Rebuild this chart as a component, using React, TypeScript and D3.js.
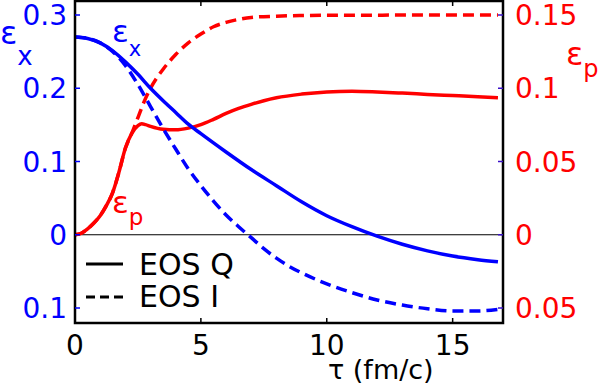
import React from "react";
import * as d3 from "d3";

// ---- data ----
const tauQx = [0, 0.5, 1, 1.5, 2, 2.5, 3, 3.5, 4, 4.5, 5, 6, 7, 8, 9, 10, 11, 12, 13, 14, 15, 16, 16.8];
const epsXQ = [0.270, 0.268, 0.262, 0.251, 0.236, 0.219, 0.200, 0.183, 0.167, 0.151, 0.138, 0.113, 0.089, 0.067, 0.045, 0.026, 0.011, -0.002, -0.013, -0.022, -0.029, -0.034, -0.037];

const tauIx = [0, 0.5, 1, 1.5, 2, 2.5, 3, 3.5, 4, 4.5, 5, 5.5, 6, 6.5, 7, 7.5, 8, 8.5, 9, 10, 11, 12, 13, 14, 15, 16, 16.8];
const epsXI = [0.270, 0.268, 0.262, 0.250, 0.231, 0.205, 0.175, 0.145, 0.117, 0.090, 0.067, 0.046, 0.027, 0.011, -0.004, -0.019, -0.032, -0.043, -0.052, -0.067, -0.079, -0.089, -0.096, -0.101, -0.104, -0.104, -0.102];

const tauQp = [0, 0.25, 0.5, 0.75, 1, 1.25, 1.5, 1.75, 2, 2.25, 2.5, 2.65, 2.8, 3, 3.5, 4, 4.5, 5, 5.5, 6, 6.5, 7, 7.5, 8, 9, 10, 11, 12, 13, 14, 15, 16, 16.8];
const epsPQ = [0, 0.001, 0.004, 0.008, 0.013, 0.020, 0.029, 0.043, 0.059, 0.069, 0.0745, 0.0758, 0.0752, 0.074, 0.072, 0.0716, 0.0728, 0.0752, 0.0788, 0.0828, 0.0862, 0.089, 0.0915, 0.0935, 0.096, 0.0975, 0.098, 0.0975, 0.0967, 0.0958, 0.095, 0.0942, 0.0935];

const tauIp = [0, 0.25, 0.5, 0.75, 1, 1.25, 1.5, 1.75, 2, 2.25, 2.5, 2.75, 3, 3.5, 4, 4.5, 5, 5.5, 6, 6.5, 7, 8, 9, 10, 12, 14, 16.8];
const epsPI = [0, 0.001, 0.004, 0.008, 0.013, 0.020, 0.029, 0.043, 0.059, 0.069, 0.080, 0.091, 0.100, 0.113, 0.123, 0.131, 0.137, 0.142, 0.145, 0.147, 0.1483, 0.1492, 0.1496, 0.1498, 0.1499, 0.15, 0.15];

const xTicks = [0, 5, 10, 15];
const xTickLabels = ["0", "5", "10", "15"];
const leftTicks = [0.3, 0.2, 0.1, 0, -0.1];
const leftTickLabels = ["0.3", "0.2", "0.1", "0", "0.1"];
const rightTicks = [0.15, 0.1, 0.05, 0, -0.05];
const rightTickLabels = ["0.15", "0.1", "0.05", "0", "0.05"];
const legendLabels = ["EOS Q", "EOS I"];

const BLUE = "#0000ff";
const RED = "#ff0000";
const FONT = "DejaVu Sans";

export default function App() {
  const x = d3.scaleLinear().domain([0, 17]).range([75, 503]);
  const yL = d3.scaleLinear().domain([-0.1, 0.3]).range([308, 15]);
  const yR = d3.scaleLinear().domain([-0.05, 0.15]).range([308, 15]);

  const mk = (ts: number[], vs: number[], y: d3.ScaleLinear<number, number>) =>
    d3
      .line<number>()
      .x((_, i) => x(ts[i]))
      .y((v) => y(v))
      .curve(d3.curveMonotoneX)(vs) || "";

  const top = 1;
  const bottom = 323;
  const left = x(0);
  const right = x(17);

  return (
    <svg width={600} height={386} style={{ position: "absolute", left: 0, top: 0, background: "#fff" }} fontFamily={FONT}>
      <rect x={0} y={0} width={600} height={386} fill="#fff" />
      {/* zero line */}
      <line x1={left} x2={right} y1={yL(0)} y2={yL(0)} stroke="#000" strokeWidth={1} />
      {/* curves */}
      <path d={mk(tauQp, epsPQ, yR)} fill="none" stroke={RED} strokeWidth={3.5} />
      <path d={mk(tauIp, epsPI, yR)} fill="none" stroke={RED} strokeWidth={3.5} strokeDasharray="11,6" />
      <path d={mk(tauQx, epsXQ, yL)} fill="none" stroke={BLUE} strokeWidth={3.5} />
      <path d={mk(tauIx, epsXI, yL)} fill="none" stroke={BLUE} strokeWidth={3.5} strokeDasharray="11,6" />

      {/* box */}
      <rect x={left} y={top} width={right - left} height={bottom - top} fill="none" stroke="#000" strokeWidth={2.5} />

      {/* x ticks */}
      {xTicks.map((t, i) => (
        <g key={"xt" + i}>
          {t > 0 && <line x1={x(t)} x2={x(t)} y1={bottom} y2={bottom - 5} stroke="#000" strokeWidth={1.5} />}
          {t > 0 && <line x1={x(t)} x2={x(t)} y1={top} y2={top + 5} stroke="#000" strokeWidth={1.5} />}
          <text x={x(t)} y={355} textAnchor="middle" fontSize={28} fill="#000">
            {xTickLabels[i]}
          </text>
        </g>
      ))}
      {/* left ticks */}
      {leftTicks.map((t, i) => (
        <g key={"lt" + i}>
          <line x1={left} x2={left + 5} y1={yL(t)} y2={yL(t)} stroke={BLUE} strokeWidth={1.5} />
          <text x={67} y={yL(t)} dy="0.36em" textAnchor="end" fontSize={28} fill={BLUE}>
            {leftTickLabels[i]}
          </text>
        </g>
      ))}
      {/* right ticks */}
      {rightTicks.map((t, i) => (
        <g key={"rt" + i}>
          <line x1={right - 5} x2={right} y1={yR(t)} y2={yR(t)} stroke="#3a10c8" strokeWidth={1.5} />
          <text x={515} y={yR(t)} dy="0.36em" textAnchor="start" fontSize={28} fill={RED}>
            {rightTickLabels[i]}
          </text>
        </g>
      ))}

      {/* axis titles */}
      <text x={0} y={44} fontSize={32} fill={BLUE}>
        ε<tspan dy={21} fontSize={26}>x</tspan>
      </text>
      <text x={566} y={65} fontSize={32} fill={RED}>
        ε<tspan dy={12} fontSize={24}>p</tspan>
      </text>
      <text x={328} y={379} fontSize={27} fill="#000">
        τ (fm/c)
      </text>

      {/* inline labels */}
      <text x={112} y={42} fontSize={31} fill={BLUE}>
        ε<tspan dy={14} fontSize={21}>x</tspan>
      </text>
      <text x={112} y={213} fontSize={31} fill={RED}>
        ε<tspan dy={12} fontSize={23}>p</tspan>
      </text>

      {/* legend */}
      <line x1={86} x2={123} y1={264} y2={264} stroke="#000" strokeWidth={3} />
      <text x={139} y={275} fontSize={30} fill="#000">
        {legendLabels[0]}
      </text>
      <line x1={86} x2={123} y1={297} y2={297} stroke="#000" strokeWidth={3} strokeDasharray="9,5" />
      <text x={139} y={307} fontSize={30} fill="#000">
        {legendLabels[1]}
      </text>
    </svg>
  );
}
